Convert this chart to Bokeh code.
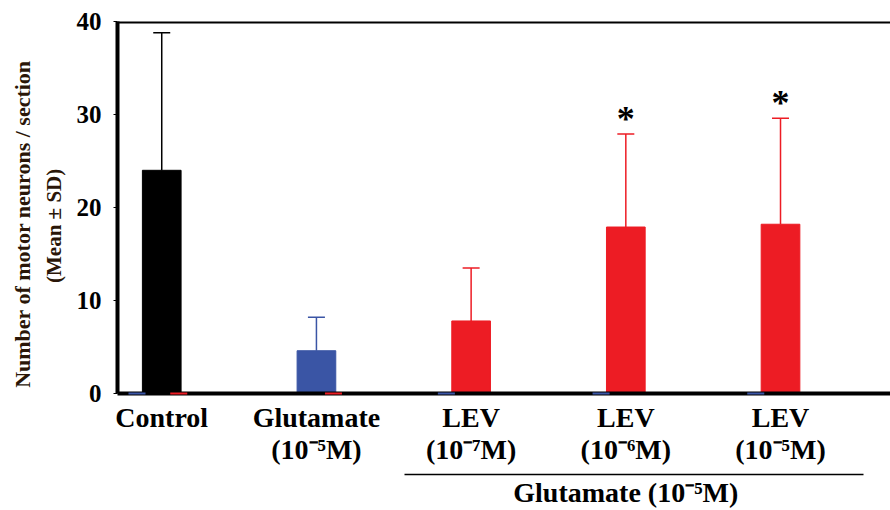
from bokeh.plotting import figure
from bokeh.models import (ColumnDataSource, Range1d, LinearAxis, FixedTicker, Span,
                          Whisker, TeeHead)
from bokeh.core.properties import value
from bokeh.embed import file_html
from bokeh.resources import INLINE

# ---- data ----
categories = ["Control", "Glutamate", "LEV", "LEV", "LEV"]
concentrations = ["", "(10⁻⁵M)", "(10⁻⁷M)", "(10⁻⁶M)", "(10⁻⁵M)"]
means = [24.0, 4.6, 7.8, 17.9, 18.2]
sds = [14.8, 3.6, 5.7, 10.0, 11.4]
series = ["control", "glutamate", "lev", "lev", "lev"]
significance = ["", "", "", "*", "*"]
group_label = "Glutamate (10⁻⁵M)"
group_members = [2, 3, 4]
y_ticks = [0, 10, 20, 30, 40]
y_title = "Number of motor neurons / section"
y_subtitle = "(Mean ± SD)"

colors = {"control": "#000000", "glutamate": "#3a55a5", "lev": "#ed1c24"}
zero_offset = {"glutamate": -0.16, "lev": 0.11}

FONT = "Liberation Serif"
NB = "\u00a0"
idx = list(range(len(categories)))

p = figure(width=890, height=510, x_range=Range1d(-0.286, 4.711), y_range=Range1d(0, 40),
           output_backend="svg", toolbar_location=None,
           min_border_left=117, min_border_right=0, min_border_top=21, min_border_bottom=110)
p.outline_line_color = None
p.grid.visible = False
p.background_fill_color = "white"

src = ColumnDataSource(dict(
    x=idx, top=means, upper=[m + s for m, s in zip(means, sds)],
    color=[colors[s] for s in series], sig=significance))
p.vbar(x="x", top="top", bottom=0, width=0.25, source=src,
       fill_color="color", line_color="color")

# zero-height markers of series absent in a category (drawn over the axis line)
for s in ("glutamate", "lev"):
    zx = [i + zero_offset[s] for i in idx if series[i] != s]
    zsrc = ColumnDataSource(dict(x=zx, top=[0] * len(zx)))
    r = p.vbar(x="x", top="top", bottom=0, width=0.11, source=zsrc,
               fill_color=None, line_color=colors[s], line_width=2)
    r.level = "overlay"

for s in ("control", "glutamate", "lev"):
    ii = [i for i in idx if series[i] == s]
    wsrc = ColumnDataSource(dict(x=ii, lower=[means[i] for i in ii],
                                 upper=[means[i] + sds[i] for i in ii]))
    w = Whisker(source=wsrc, base="x", upper="upper", lower="lower",
                line_color=colors[s], line_width=1.5,
                upper_head=TeeHead(size=17, line_color=colors[s], line_width=1.5),
                lower_head=None)
    p.add_layout(w)

p.text(x="x", y="upper", text="sig", source=src, y_offset=-15,
       text_align="center", text_baseline="middle",
       text_font=value(FONT), text_font_style="bold", text_font_size="36px",
       text_color="black")

p.add_layout(Span(location=40, dimension="width", line_color="black", line_width=4))

# ---- y axis ----
ya = p.yaxis[0]
ya.ticker = FixedTicker(ticks=y_ticks)
ya.axis_line_width = 4
ya.axis_line_color = "black"
ya.major_tick_out = 4
ya.major_tick_in = 0
ya.major_tick_line_width = 1
ya.minor_tick_line_color = None
ya.major_label_standoff = 12
ya.major_label_text_font = FONT
ya.major_label_text_font_style = "bold"
ya.major_label_text_font_size = "25px"
ya.major_label_text_color = "black"

label_color = "#2a1608"
for text, stand, size in ((y_subtitle + NB * 7, 8, "21px"),
                          (y_title + NB * 6, 4, "22px")):
    ax = LinearAxis(ticker=FixedTicker(ticks=[]), axis_label=text,
                    axis_line_color=None, major_tick_line_color=None,
                    minor_tick_line_color=None, major_tick_out=0, minor_tick_out=0,
                    major_label_text_font_size="0px", major_label_standoff=0,
                    axis_label_standoff=stand, axis_label_text_font=FONT,
                    axis_label_text_font_style="bold", axis_label_text_font_size=size,
                    axis_label_text_color=label_color)
    p.add_layout(ax, "left")

# ---- x axes ----
xa = p.xaxis[0]
xa.ticker = FixedTicker(ticks=idx)
xa.major_label_overrides = {i: c for i, c in zip(idx, categories)}
xa.axis_line_width = 4
xa.axis_line_color = "black"
xa.major_tick_line_color = None
xa.minor_tick_line_color = None
xa.major_tick_out = 0
xa.major_tick_in = 0
xa.major_label_standoff = 8
xa.major_label_text_font = FONT
xa.major_label_text_font_style = "bold"
xa.major_label_text_font_size = "28px"
xa.major_label_text_color = "black"

xa2 = LinearAxis(ticker=FixedTicker(ticks=idx),
                 major_label_overrides={i: c for i, c in zip(idx, concentrations)},
                 axis_line_color=None, major_tick_line_color=None, minor_tick_line_color=None,
                 major_tick_out=0, major_tick_in=0, major_label_standoff=-2,
                 major_label_text_font=FONT, major_label_text_font_style="bold",
                 major_label_text_font_size="28px", major_label_text_color="black",
                 axis_label=NB, axis_label_standoff=3, axis_label_text_font_size="1px")
p.add_layout(xa2, "below")

mid = group_members[len(group_members) // 2]
xa3 = LinearAxis(ticker=FixedTicker(ticks=[mid]), major_label_overrides={mid: group_label},
                 bounds=(group_members[0] - 0.431, group_members[-1] + 0.537),
                 axis_line_color="black", axis_line_width=1.5,
                 major_tick_line_color=None, minor_tick_line_color=None,
                 major_tick_out=0, major_tick_in=0, major_label_standoff=2,
                 major_label_text_font=FONT, major_label_text_font_style="bold",
                 major_label_text_font_size="28px", major_label_text_color="black")
p.add_layout(xa3, "below")

open("out.html", "w").write(file_html(p, INLINE))
